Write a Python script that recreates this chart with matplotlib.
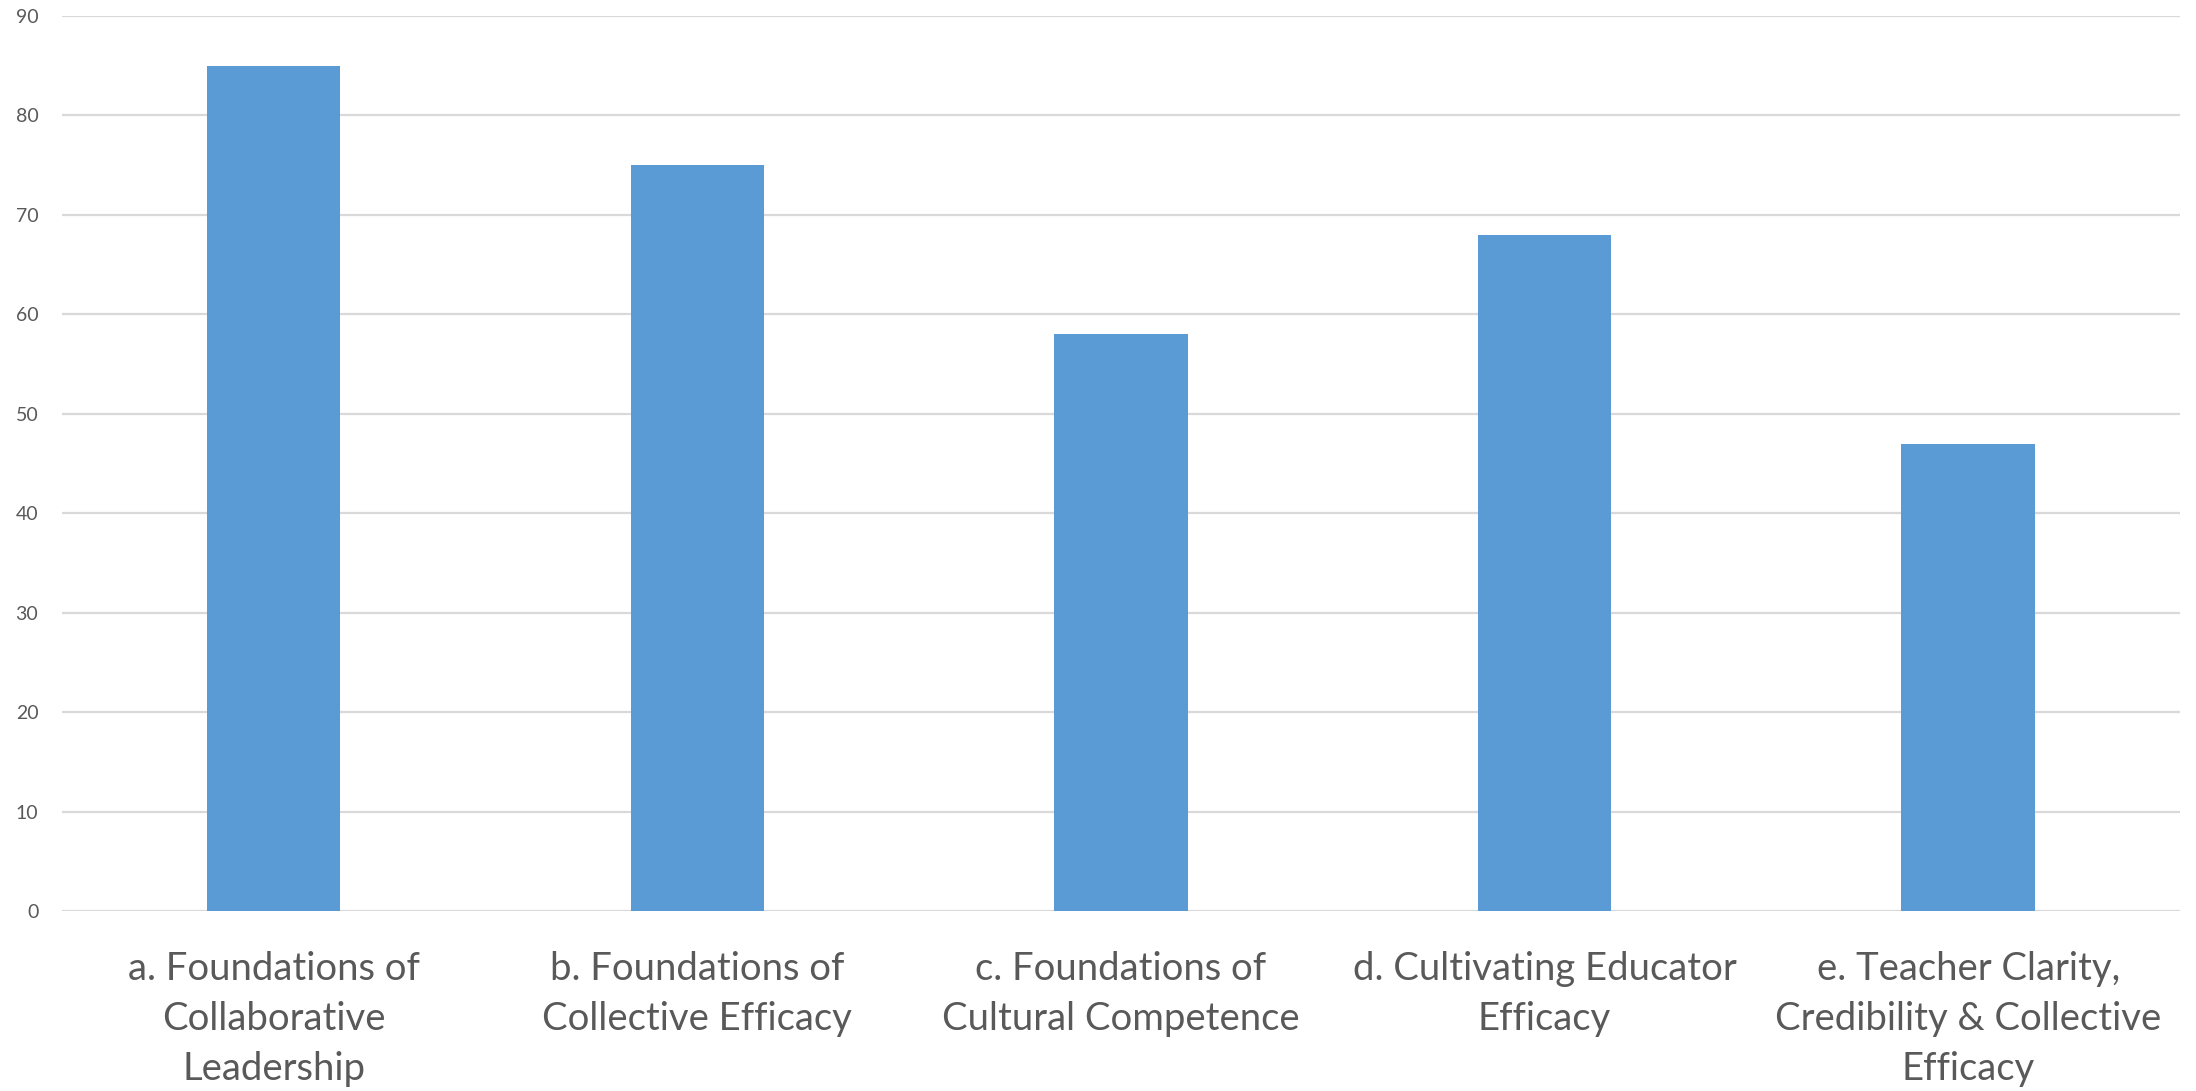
import numpy as np
import matplotlib
matplotlib.use("Agg")
import matplotlib.pyplot as plt

# chart data
categories = ["a. Foundations of\nCollaborative\nLeadership",
              "b. Foundations of\nCollective Efficacy",
              "c. Foundations of\nCultural Competence",
              "d. Cultivating Educator\nEfficacy",
              "e. Teacher Clarity,\nCredibility & Collective\nEfficacy"]
values = [85, 75, 58, 68, 47]
yticks = [0, 10, 20, 30, 40, 50, 60, 70, 80, 90]

plt.rcParams['font.family'] = ['Lato', 'DejaVu Sans']

fig = plt.figure(figsize=(21.96, 10.91), dpi=100)
ax = fig.add_axes([0.0282, 0.165, 0.9645, 0.8203])

x = np.arange(len(categories))
ax.bar(x, values, width=0.315, color='#5B9BD5', zorder=3)

ax.set_xlim(-0.5, len(categories) - 0.5)
ax.set_ylim(0, 90)
ax.set_yticks(yticks)
ax.set_xticks(x)
ax.set_xticklabels(categories, fontsize=27.5, color='#595959', linespacing=1.47)

#gridlines only, no frame
ax.grid(axis='y', color='#D9D9D9', linewidth=1.6, zorder=0)
for s in ax.spines.values():
    s.set_visible(False)
ax.tick_params(axis='both', length=0)
ax.tick_params(axis='y', labelsize=14, labelcolor='#595959', pad=17)
ax.tick_params(axis='x', pad=29)

fig.savefig("out.png", dpi=100)
